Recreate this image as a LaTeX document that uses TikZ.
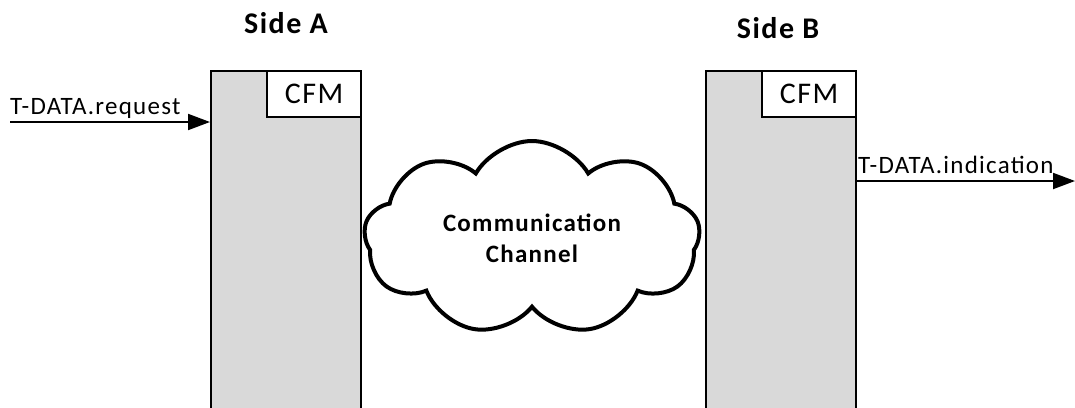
\documentclass[tikz,border=0pt]{standalone}
\usepackage{fontspec}
\setmainfont{Carlito}[LetterSpace=5]
\usetikzlibrary{shapes.symbols,arrows.meta}
\definecolor{boxgray}{HTML}{D9D9D9}
\tikzset{
  sidebox/.style={draw, line width=2pt, fill=boxgray, minimum width=150pt, minimum height=360pt, anchor=north west, inner sep=0pt},
  cfmbox/.style={draw, line width=2pt, fill=white, minimum width=94pt, minimum height=46pt, anchor=north east, inner sep=0pt, font=\fontsize{30}{34}\selectfont},
  title/.style={font=\bfseries\fontsize{30}{34}\selectfont},
  arr/.style={line width=2pt, -{Triangle[length=22pt,width=16pt]}},
  lbl/.style={font=\fontsize{25}{28}\selectfont, inner sep=0pt},
  cloudnode/.style={cloud, cloud puffs=9, cloud puff arc=120, aspect=1.8, draw, line width=4pt, fill=white, minimum width=336pt, minimum height=194pt, inner sep=0pt, align=center, font=\bfseries\fontsize{25}{31}\selectfont}
}
\begin{document}
\begin{tikzpicture}[x=1pt,y=-1pt]
\useasboundingbox (0,0) rectangle (1075,407);
\node[sidebox] (A) at (210,70) {};
\node[sidebox] (B) at (705,70) {};
\node[cfmbox] (cfmA) at (A.north east) {CFM};
\node[cfmbox] (cfmB) at (B.north east) {CFM};
\node[title] (sideA) at (286,23) {Side A};
\node[title] (sideB) at (778,28) {Side B};
\node[cloudnode] (ch) at (532,238) {Communication\\Channel};
\coordinate (inA) at (10,122);
\coordinate (outB) at (1075,181);
\draw[arr] (inA) -- (A.west |- inA);
\draw[arr] (B.east |- outB) -- (outB);
\node[lbl, anchor=base west] (req) at (10,114) {T-DATA.request};
\node[lbl, anchor=base west] (ind) at (858,173) {T-DATA.indication};
\end{tikzpicture}
\end{document}
